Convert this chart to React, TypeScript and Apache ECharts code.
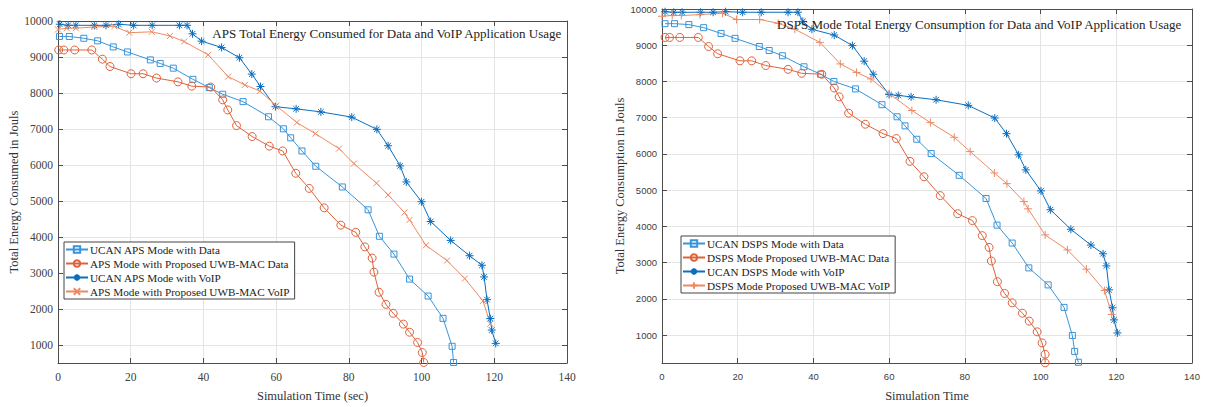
import React, { useEffect, useRef } from "react";
import * as echarts from "echarts";

const xTicks = [0, 20, 40, 60, 80, 100, 120, 140];

const apsUcanDataX = [0.4, 3.1, 7.1, 10.9, 15.2, 19.1, 25.4, 28.1, 31.7, 37.1, 41.6, 45.3, 50.9, 57.9, 62.0, 64.0, 67.1, 70.9, 78.2, 85.3, 88.4, 92.4, 96.7, 101.8, 105.9, 108.4, 108.8];
const apsUcanDataY = [9570, 9570, 9520, 9450, 9280, 9140, 8920, 8820, 8690, 8380, 8150, 7965, 7760, 7340, 7005, 6755, 6390, 5965, 5390, 4755, 4020, 3525, 2830, 2360, 1740, 965, 515];

const apsPropDataX = [0.2, 1.6, 4.6, 9.3, 12.2, 14.3, 20.1, 23.4, 27.1, 33.0, 36.8, 42.0, 45.3, 46.7, 49.1, 53.4, 58.1, 61.8, 65.4, 69.1, 73.2, 77.8, 81.9, 84.4, 86.4, 86.9, 88.3, 90.2, 92.2, 95.0, 96.7, 98.9, 100.2, 100.6];
const apsPropDataY = [9195, 9195, 9195, 9195, 8940, 8735, 8535, 8535, 8415, 8310, 8190, 8165, 7810, 7530, 7095, 6790, 6525, 6390, 5770, 5350, 4810, 4330, 4130, 3725, 3415, 3025, 2465, 2130, 1880, 1580, 1355, 1070, 790, 515];

const apsUcanVoipX = [0.5, 2.8, 4.9, 10.0, 13.2, 16.7, 20.8, 25.9, 33.4, 35.5, 37.0, 39.5, 45.0, 49.9, 53.3, 55.7, 59.8, 65.5, 72.3, 80.8, 87.7, 90.8, 94.1, 95.8, 100.0, 102.5, 108.0, 113.2, 116.6, 117.2, 118.0, 118.9, 119.3, 120.4];
const apsUcanVoipY = [9910, 9880, 9880, 9880, 9880, 9910, 9880, 9880, 9880, 9880, 9645, 9440, 9265, 8980, 8525, 8180, 7620, 7560, 7475, 7330, 6990, 6535, 5975, 5530, 4980, 4430, 3905, 3480, 3215, 2890, 2260, 1735, 1415, 1045];

const apsPropVoipX = [0, 2.4, 4.9, 10.0, 15.5, 19.6, 25.8, 30.8, 34.7, 41.3, 46.8, 51.4, 55.5, 60.0, 65.7, 70.8, 77.3, 81.4, 87.6, 90.8, 95.3, 96.7, 101.2, 107.0, 111.9, 116.9, 118.9];
const apsPropVoipY = [9765, 9800, 9800, 9835, 9855, 9675, 9700, 9585, 9430, 9060, 8455, 8225, 8055, 7650, 7180, 6870, 6455, 6040, 5495, 5170, 4680, 4475, 3770, 3345, 2845, 2225, 1590];

const dspsUcanDataX = [0.8, 3.3, 7.1, 11.0, 15.6, 19.3, 25.7, 28.3, 31.8, 37.5, 41.9, 45.4, 51.1, 58.1, 62.1, 64.2, 67.3, 71.1, 78.5, 85.6, 88.5, 92.5, 96.9, 102.0, 106.2, 108.4, 109.0, 110.0];
const dspsUcanDataY = [9595, 9595, 9570, 9485, 9325, 9190, 8965, 8855, 8710, 8405, 8200, 8000, 7795, 7360, 7025, 6775, 6405, 6010, 5410, 4770, 4035, 3540, 2855, 2385, 1765, 990, 550, 250];

const dspsPropDataX = [0.8, 2.0, 4.7, 9.6, 12.3, 14.7, 20.6, 23.7, 27.4, 33.3, 36.9, 42.2, 45.5, 46.8, 49.3, 53.7, 58.4, 61.9, 65.5, 69.2, 73.5, 78.1, 82.0, 84.6, 86.4, 87.0, 88.6, 90.5, 92.5, 95.2, 97.0, 99.1, 100.4, 101.2, 101.2];
const dspsPropDataY = [9215, 9215, 9215, 9215, 8965, 8765, 8570, 8570, 8440, 8335, 8225, 8200, 7820, 7575, 7125, 6820, 6560, 6425, 5795, 5370, 4850, 4350, 4160, 3745, 3420, 3045, 2475, 2150, 1890, 1605, 1385, 1090, 785, 470, 235];

const dspsUcanVoipX = [0.8, 3.1, 5.3, 10.2, 13.5, 16.8, 21.3, 26.2, 33.3, 35.9, 37.2, 39.6, 45.5, 50.3, 53.4, 55.8, 60.0, 62.4, 65.8, 72.4, 80.9, 87.9, 91.0, 94.2, 96.1, 100.1, 102.6, 108.0, 113.3, 116.5, 117.4, 118.1, 119.0, 119.4, 120.3];
const dspsUcanVoipY = [9925, 9910, 9910, 9910, 9910, 9925, 9910, 9910, 9910, 9910, 9660, 9440, 9280, 8990, 8560, 8200, 7640, 7615, 7575, 7495, 7340, 6990, 6560, 5975, 5560, 4980, 4460, 3920, 3485, 3245, 2910, 2250, 1755, 1420, 1060];

const dspsPropVoipX = [0, 2.7, 5.1, 10.0, 16.0, 19.7, 25.8, 30.7, 35.1, 41.7, 47.1, 51.4, 55.2, 60.0, 66.0, 70.9, 77.2, 81.4, 87.8, 91.1, 95.6, 96.7, 101.2, 107.1, 112.1, 116.9, 118.8];
const dspsPropVoipY = [9800, 9820, 9820, 9845, 9885, 9710, 9710, 9605, 9440, 9080, 8485, 8250, 8070, 7665, 7200, 6865, 6460, 6065, 5475, 5180, 4685, 4485, 3765, 3350, 2820, 2230, 1570];

const leftNames = [
  "UCAN APS Mode with Data",
  "APS Mode with Proposed UWB-MAC Data",
  "UCAN APS Mode with VoIP",
  "APS Mode with Proposed UWB-MAC VoIP",
];
const rightNames = [
  "UCAN DSPS Mode with Data",
  "DSPS Mode Proposed UWB-MAC Data",
  "UCAN DSPS Mode with VoIP",
  "DSPS Mode Proposed UWB-MAC VoIP",
];

const BLUE_D = "#3a94d8";
const ORANGE_D = "#e0623a";
const BLUE_V = "#0b6ebf";
const ORANGE_V = "#ec8a64";

const SYM_X = "path://M0,0L10,10M10,0L0,10";
const SYM_AST = "path://M5,0L5,10M0,5L10,5M1.5,1.5L8.5,8.5M8.5,1.5L1.5,8.5";
const SYM_PLUS = "path://M5,0L5,10M0,5L10,5";

const SERIF = "'Liberation Serif', 'Times New Roman', serif";
const SANS = "'Liberation Sans', Arial, sans-serif";

function zip(xs: number[], ys: number[]) {
  return xs.map((x, i) => [x, ys[i]]);
}

function mkSeries(name: string, xs: number[], ys: number[], color: string, symbol: string, size: number, grid: number) {
  return {
    type: "line",
    name,
    data: zip(xs, ys),
    xAxisIndex: grid * 2,
    yAxisIndex: grid * 2,
    symbol,
    symbolSize: size,
    showAllSymbol: true,
    lineStyle: { color, width: 1 },
    itemStyle: { color: "rgba(255,255,255,0)", borderColor: color, borderWidth: 1 },
    emphasis: { disabled: true },
  };
}

function axesFor(grid: number, yMin: number, tickFont: string, tickSize: number, xName: string, yName: string, yGap: number) {
  const lineStyle = { color: "#4d4d4d", width: 1 };
  const label = { color: "#404040", fontFamily: tickFont, fontSize: tickSize, formatter: (v: number) => String(v) };
  const xAxes = [
    {
      type: "value", gridIndex: grid, position: "bottom", min: 0, max: 140, interval: 20,
      axisLine: { show: true, onZero: false, lineStyle },
      axisTick: { show: true, inside: true, length: 5, lineStyle },
      axisLabel: { ...label, margin: 8 },
      splitLine: { show: true, lineStyle: { color: "#e4e4e4", width: 1 } },
      name: xName, nameLocation: "middle", nameGap: 26,
      nameTextStyle: { fontFamily: SERIF, fontSize: 12.5, color: "#333" },
    },
    {
      type: "value", gridIndex: grid, position: "top", min: 0, max: 140, interval: 20,
      axisLine: { show: true, onZero: false, lineStyle },
      axisTick: { show: true, inside: true, length: 5, lineStyle },
      axisLabel: { show: false },
      splitLine: { show: false },
    },
  ];
  const yAxes = [
    {
      type: "value", gridIndex: grid, position: "left", min: yMin, max: 10000, splitNumber: 10,
      axisLine: { show: true, onZero: false, lineStyle },
      axisTick: { show: true, inside: true, length: 5, lineStyle },
      axisLabel: { ...label, margin: 5, showMinLabel: false },
      splitLine: { show: true, lineStyle: { color: "#e4e4e4", width: 1 } },
      name: yName, nameLocation: "middle", nameGap: yGap, nameRotate: 90,
      nameTextStyle: { fontFamily: SERIF, fontSize: 12.5, color: "#333" },
    },
    {
      type: "value", gridIndex: grid, position: "right", min: yMin, max: 10000, splitNumber: 10,
      axisLine: { show: true, onZero: false, lineStyle },
      axisTick: { show: true, inside: true, length: 5, lineStyle },
      axisLabel: { show: false },
      splitLine: { show: false },
    },
  ];
  return { xAxes, yAxes };
}

export default function App() {
  const ref = useRef<HTMLDivElement>(null);
  useEffect(() => {
    if (!ref.current) return;
    const chart = echarts.init(ref.current, undefined, { renderer: "svg" });
    const a = axesFor(0, 500, SERIF, 11.5, "Simulation Time (sec)", "Total Energy Consumed in Jouls", 29);
    const b = axesFor(1, 230, SANS, 9.5, "Simulation Time", "Total Energy Consumption in Jouls", 26);
    const legendCommon = {
      orient: "vertical",
      itemWidth: 22,
      itemHeight: 8,
      itemGap: 3,
      padding: [2, 5, 2, 1],
      borderColor: "#444",
      borderWidth: 1,
      backgroundColor: "#fff",
      textStyle: { fontFamily: SERIF, fontSize: 11.2, lineHeight: 11, color: "#222", padding: [0, 0, 0, -3] },
      selectedMode: false,
    };
    chart.setOption({
      animation: false,
      backgroundColor: "#fff",
      grid: [
        { left: 58, right: 638, top: 21, bottom: 37 },
        { left: 662, right: 13, top: 9, bottom: 36 },
      ],
      xAxis: [...a.xAxes, ...b.xAxes],
      yAxis: [...a.yAxes, ...b.yAxes],
      title: [
        {
          text: "APS Total Energy Consumed for Data and VoIP Application Usage",
          right: 642, top: 27,
          textStyle: { fontFamily: SERIF, fontSize: 13, fontWeight: "normal", color: "#222" },
          padding: 0,
        },
        {
          text: "DSPS Mode Total Energy Consumption for Data and VoIP Application Usage",
          right: 22, top: 18,
          textStyle: { fontFamily: SERIF, fontSize: 13, fontWeight: "normal", color: "#222" },
          padding: 0,
        },
      ],
      legend: [
        { ...legendCommon, left: 64, top: 242, data: leftNames },
        { ...legendCommon, left: 681, top: 236, data: rightNames },
      ],
      series: [
        mkSeries(leftNames[0], apsUcanDataX, apsUcanDataY, BLUE_D, "rect", 6, 0),
        mkSeries(leftNames[1], apsPropDataX, apsPropDataY, ORANGE_D, "circle", 8, 0),
        mkSeries(leftNames[2], apsUcanVoipX, apsUcanVoipY, BLUE_V, SYM_AST, 8, 0),
        mkSeries(leftNames[3], apsPropVoipX, apsPropVoipY, ORANGE_V, SYM_X, 6, 0),
        mkSeries(rightNames[0], dspsUcanDataX, dspsUcanDataY, BLUE_D, "rect", 6, 1),
        mkSeries(rightNames[1], dspsPropDataX, dspsPropDataY, ORANGE_D, "circle", 8, 1),
        mkSeries(rightNames[2], dspsUcanVoipX, dspsUcanVoipY, BLUE_V, SYM_AST, 8, 1),
        mkSeries(rightNames[3], dspsPropVoipX, dspsPropVoipY, ORANGE_V, SYM_PLUS, 8, 1),
      ],
    });
    return () => chart.dispose();
  }, []);
  return <div ref={ref} style={{ width: 1205, height: 407, position: "absolute", left: 0, top: 0 }} />;
}
